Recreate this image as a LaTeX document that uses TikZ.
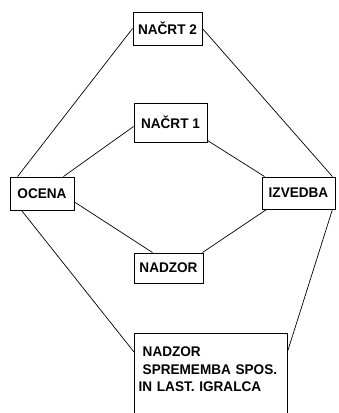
\documentclass[tikz,border=0pt]{standalone}
\usepackage{fontspec}
\setmainfont{Liberation Sans}[FakeStretch=0.97]
\usetikzlibrary{calc}
\begin{document}
\begin{tikzpicture}[x=1pt,y=-1pt,
  lbl/.style={font=\fontsize{14}{17.5}\selectfont\bfseries},
  box/.style={lbl,draw,line width=0.9pt,inner sep=0pt},
  link/.style={line width=0.7pt}]
\useasboundingbox (0,0) rectangle (339,413);
\clip (0,0) rectangle (339,413);
\fill[white] (0,0) rectangle (339,413);
\node[box,minimum width=69pt,minimum height=33pt] (n2) at (167.5,28.5) {NAČRT 2};
\node[box,minimum width=73pt,minimum height=39pt] (n1) at (170.5,122.5) {NAČRT 1};
\node[box,minimum width=64pt,minimum height=33pt] (oc) at (42,193.5) {OCENA};
\node[box,minimum width=73pt,minimum height=32pt] (iz) at (298.5,193) {IZVEDBA};
\node[box,minimum width=69pt,minimum height=30pt] (nd) at (168.5,268) {NADZOR};
\node[lbl,anchor=north west,text width=136pt,align=left,inner xsep=8.5pt,inner ysep=14pt] (bt) at (134,333) {NADZOR\\SPREMEMBA SPOS.\\\hspace*{-4pt}IN LAST. IGRALCA};
\coordinate (floor) at (0,420);
\draw[line width=0.9pt] (bt.north west |- floor) -- (bt.north west) -- (bt.north east) -- (bt.north east |- floor);
\draw[link] ([xshift=8pt]oc.north west) -- (n2.west);
\draw[link] (n2.east) -- ([xshift=-3pt]iz.north east);
\draw[link] ([xshift=-11pt]oc.north east) -- ([yshift=-4pt]n1.west);
\draw[link] ([yshift=2pt]n1.south east) -- ([xshift=3pt]iz.north west);
\draw[link] ([yshift=-8.5pt]oc.east) -- ([xshift=19pt]nd.north west);
\draw[link] ([xshift=-1pt]nd.north east) -- ([xshift=5pt]iz.south west);
\draw[link] ([xshift=12pt]oc.south west) -- ([yshift=-19pt]bt.north west);
\draw[link] ([xshift=-3pt]iz.south east) -- ([yshift=-19pt]bt.north east);
\end{tikzpicture}
\end{document}
